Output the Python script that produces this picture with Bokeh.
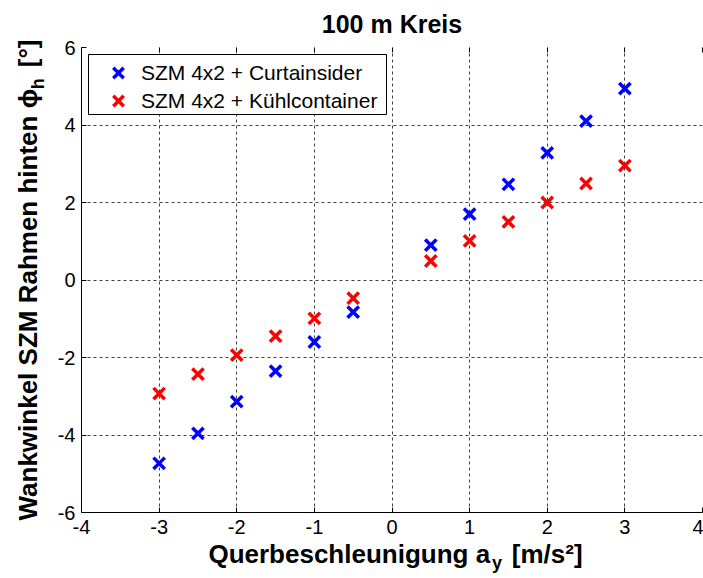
import math
from bokeh.plotting import figure
from bokeh.models import (Range1d, FixedTicker, LinearAxis, Label, Legend, LegendItem,
                          BoxAnnotation)
from bokeh.embed import file_html
from bokeh.resources import INLINE

# ---- data ----
accel = [-3, -2.5, -2, -1.5, -1, -0.5, 0.5, 1, 1.5, 2, 2.5, 3]
phi_curtainsider = [-4.73, -3.96, -3.14, -2.35, -1.60, -0.83, 0.90, 1.70, 2.47, 3.28, 4.10, 4.94]
phi_kuehlcontainer = [-2.93, -2.43, -1.94, -1.45, -0.99, -0.47, 0.49, 1.01, 1.50, 2.00, 2.49, 2.95]
series_names = ["SZM 4x2 + Curtainsider", "SZM 4x2 + Kühlcontainer"]
x_ticks = [-4, -3, -2, -1, 0, 1, 2, 3, 4]
y_ticks = [-6, -4, -2, 0, 2, 4, 6]
title_text = "100 m Kreis"
NB = "\u00a0"
x_label_main = "Querbeschleunigung a" + NB * 3 + "[m/s²]"
x_label_sub = "y"
y_label_main = "Wankwinkel SZM Rahmen hinten \u03d5" + NB * 3 + "[°]"
y_label_sub = "h"

FONT = "Liberation Sans"

p = figure(width=703, height=578, output_backend="svg", toolbar_location=None,
           x_range=Range1d(-4, 4), y_range=Range1d(-6, 6),
           min_border_left=81, min_border_right=1, min_border_top=47, min_border_bottom=66)
p.background_fill_color = "white"
p.border_fill_color = "white"
p.outline_line_color = None

for ax, ticks in ((p.xaxis[0], x_ticks), (p.yaxis[0], y_ticks)):
    ax.ticker = FixedTicker(ticks=ticks)
    ax.major_label_overrides = {t: str(t) for t in ticks}
    ax.major_tick_in = 5
    ax.major_tick_out = 0
    ax.minor_tick_line_color = None
    ax.axis_line_color = "black"
    ax.major_tick_line_color = "black"
    ax.major_label_text_font = FONT
    ax.major_label_text_font_size = "20px"
    ax.major_label_text_color = "black"
p.xaxis.major_label_standoff = 7
p.yaxis.major_label_standoff = 6

top_axis = LinearAxis(ticker=FixedTicker(ticks=x_ticks), axis_line_color=None,
                      major_tick_in=5, major_tick_out=0, minor_tick_line_color=None,
                      major_tick_line_color="black",
                      major_label_text_alpha=0, major_label_text_font_size="1px",
                      major_label_standoff=0)
p.add_layout(top_axis, "above")

for g in (p.xgrid[0], p.ygrid[0]):
    g.grid_line_color = "black"
    g.grid_line_dash = "3 3"
    g.grid_line_alpha = 0.75
    g.grid_line_width = 1

r1 = p.scatter(accel, phi_curtainsider, marker="x", size=16, line_width=3.5,
               line_color="#0000ff")
r2 = p.scatter(accel, phi_kuehlcontainer, marker="x", size=16, line_width=3.5,
               line_color="#ff0000")

# legend frame
p.add_layout(BoxAnnotation(left=7, right=305, bottom=398, top=458,
                           left_units="screen", right_units="screen",
                           bottom_units="screen", top_units="screen",
                           fill_color="white", fill_alpha=1,
                           line_color="black", line_width=1, line_alpha=1,
                           level="annotation", propagate_hover=False))

def make_legend(renderer, name, ypos):
    lg = Legend(items=[LegendItem(label=name, renderers=[renderer])], location=(14, ypos))
    lg.margin = 0
    lg.padding = 0
    lg.spacing = 0
    lg.glyph_width = 46
    lg.glyph_height = 37
    lg.label_height = 37
    lg.label_standoff = 0
    lg.label_text_font = FONT
    lg.label_text_font_size = "21px"
    lg.label_text_color = "black"
    lg.border_line_color = None
    lg.background_fill_alpha = 0
    return lg

p.add_layout(make_legend(r1, series_names[0], 421))
p.add_layout(make_legend(r2, series_names[1], 393))

def lab(side, **kw):
    base = dict(text_font=FONT, text_font_style="bold", text_color="black",
                text_baseline="alphabetic")
    base.update(kw)
    p.add_layout(Label(**base), side)

ang = math.pi / 2
# title (top panel)
lab("above", x=0, y=6, y_offset=24, text=title_text, text_font_size="25px",
    text_align="center")
# subscript h of the y label (top panel, small)
lab("above", x=-4, y=0, x_offset=-44, y_offset=190.75, angle=ang, text=y_label_sub,
    text_font_size="18px", text_align="left")
# x axis label (bottom panel)
lab("below", x=0, y=-6, y_offset=-41, x_offset=3.5, text=x_label_main,
    text_font_size="26px", text_align="center")
# y axis label (left panel)
lab("left", x=-4, y=0, x_offset=-54, y_offset=0, angle=ang, text=y_label_main,
    text_font_size="26px", text_align="center")
# subscript y of the x label (left panel, small)
lab("left", x=0, y=-6, x_offset=100, y_offset=-50, text=x_label_sub,
    text_font_size="18px", text_align="left")

open("out.html", "w").write(file_html(p, INLINE))
